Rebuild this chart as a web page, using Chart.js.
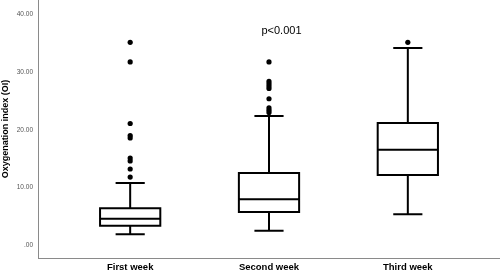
<!DOCTYPE html>
<html>
<head>
<meta charset="utf-8">
<script src="https://cdn.jsdelivr.net/npm/chart.js@4/dist/chart.umd.min.js"></script>
<style>
html,body{margin:0;padding:0;background:#fff;}
#wrap{width:500px;height:272px;position:relative;}
</style>
</head>
<body>
<div id="wrap"><canvas id="c" width="500" height="272"></canvas></div>
<script>
// ---- data ----
const categories = ["First week", "Second week", "Third week"];
const whiskerLow  = [1.85, 2.48, 5.33];
const q1          = [3.35, 5.73, 12.15];
const median      = [4.57, 7.93, 16.55];
const q3          = [6.40, 12.50, 21.20];
const whiskerHigh = [10.76, 22.40, 34.20];
const outliers = [
  [35.2, 31.8, 21.1, 19.0, 18.6, 15.1, 14.6, 13.2, 11.8],
  [31.8, 28.4, 28.0, 27.6, 27.2, 25.4, 23.8, 23.4, 23.0],
  [35.2]
];
const yTicks = [0, 10, 20, 30, 40];
const yTickLabels = [".00", "10.00", "20.00", "30.00", "40.00"];
const annotationText = "p<0.001";
const annotationPos = {x: 2.09, y: 37.2};

// ---- styles ----
const BOX_HALF = 0.217;
const CAP_HALF = 0.105;
const LINE_W = 2;

const outlierPoints = [];
outliers.forEach((arr, i) => arr.forEach(v => outlierPoints.push({x: i + 1, y: v})));

const boxPlugin = {
  id: 'boxPlugin',
  afterDatasetsDraw(chart) {
    const {ctx, scales: {x, y}} = chart;
    ctx.save();
    ctx.strokeStyle = '#000';
    ctx.lineWidth = LINE_W;
    ctx.lineCap = 'butt';
    for (let i = 0; i < categories.length; i++) {
      const c = i + 1;
      const xl = x.getPixelForValue(c - BOX_HALF), xr = x.getPixelForValue(c + BOX_HALF);
      const xc = x.getPixelForValue(c);
      const cl = x.getPixelForValue(c - CAP_HALF), cr = x.getPixelForValue(c + CAP_HALF);
      const yq1 = y.getPixelForValue(q1[i]), yq3 = y.getPixelForValue(q3[i]);
      const ym = y.getPixelForValue(median[i]);
      const ylo = y.getPixelForValue(whiskerLow[i]), yhi = y.getPixelForValue(whiskerHigh[i]);
      ctx.beginPath();
      ctx.rect(xl, yq3, xr - xl, yq1 - yq3);
      ctx.moveTo(xl, ym); ctx.lineTo(xr, ym);
      ctx.moveTo(xc, yq3); ctx.lineTo(xc, yhi);
      ctx.moveTo(cl, yhi); ctx.lineTo(cr, yhi);
      ctx.moveTo(xc, yq1); ctx.lineTo(xc, ylo);
      ctx.moveTo(cl, ylo); ctx.lineTo(cr, ylo);
      ctx.stroke();
    }
    ctx.fillStyle = '#000';
    ctx.font = '11px "Liberation Sans", Arial, sans-serif';
    ctx.textAlign = 'center';
    ctx.textBaseline = 'middle';
    ctx.fillText(annotationText, x.getPixelForValue(annotationPos.x), y.getPixelForValue(annotationPos.y));
    ctx.restore();
  }
};

new Chart(document.getElementById('c'), {
  type: 'scatter',
  data: {
    datasets: [{
      data: outlierPoints,
      pointRadius: 2.6,
      pointBackgroundColor: '#000',
      pointBorderWidth: 0,
      pointHoverRadius: 2.6
    }]
  },
  options: {
    responsive: false,
    animation: false,
    layout: {padding: 0, autoPadding: false},
    plugins: {legend: {display: false}, tooltip: {enabled: false}},
    scales: {
      x: {
        type: 'linear',
        min: 0.336, max: 3.664,
        afterBuildTicks(s) { s.ticks = categories.map((_, i) => ({value: i + 1})); },
        afterFit(s) { s.height = 14; s.paddingLeft = 0; s.paddingRight = 0; },
        grid: {display: false, drawTicks: false},
        border: {display: true, color: '#8a8a8a', width: 1},
        ticks: {
          callback: (v) => categories[v - 1],
          color: '#000',
          font: {family: '"Liberation Sans", Arial, sans-serif', size: 9.5, weight: 'bold'},
          padding: 4,
          maxRotation: 0, autoSkip: false
        }
      },
      y: {
        type: 'linear',
        min: -2.26, max: 42.55,
        afterBuildTicks(s) { s.ticks = yTicks.map(v => ({value: v})); },
        afterFit(s) { s.width = 38; s.paddingTop = 0; s.paddingBottom = 0; },
        grid: {display: false, drawTicks: false},
        border: {display: true, color: '#8a8a8a', width: 1},
        ticks: {
          callback: (v) => yTickLabels[yTicks.indexOf(v)],
          color: '#555',
          font: {family: '"Liberation Sans", Arial, sans-serif', size: 6.5},
          padding: 5
        },
        title: {
          display: true,
          text: 'Oxygenation index (OI)',
          color: '#000',
          font: {family: '"Liberation Sans", Arial, sans-serif', size: 9, weight: 'bold'},
          padding: {top: 0, bottom: 0}
        }
      }
    }
  },
  plugins: [boxPlugin]
});
</script>
</body>
</html>
